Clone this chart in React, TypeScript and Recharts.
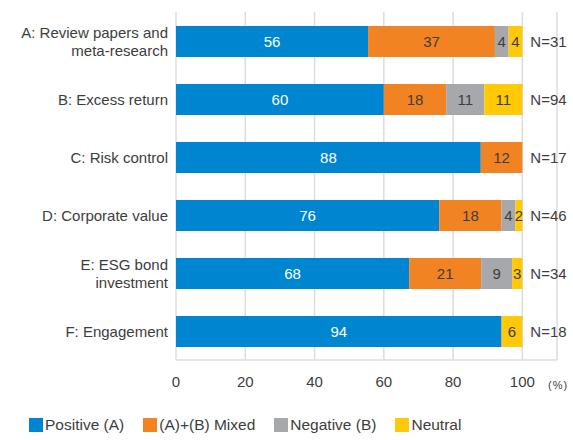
import React from "react";
import {
  BarChart,
  Bar,
  XAxis,
  YAxis,
  CartesianGrid,
  Legend,
  LabelList,
} from "recharts";

const categories = [
  "A: Review papers and\nmeta-research",
  "B: Excess return",
  "C: Risk control",
  "D: Corporate value",
  "E: ESG bond\ninvestment",
  "F: Engagement",
];
const positive = [56, 60, 88, 76, 68, 94];
const mixed = [37, 18, 12, 18, 21, 0];
const negative = [4, 11, 0, 4, 9, 0];
const neutral = [4, 11, 0, 2, 3, 6];
const counts = [31, 94, 17, 46, 34, 18];
const xTicks = [0, 20, 40, 60, 80, 100];
const xMax = 110;

const FONT = "'Liberation Sans', Arial, sans-serif";
const TEXT = "#3d3d3d";

const series = [
  { key: "positive", name: "Positive (A)", color: "#0086d1", label: "#ffffff" },
  { key: "mixed", name: "(A)+(B) Mixed", color: "#f28322", label: TEXT },
  { key: "negative", name: "Negative (B)", color: "#a7a8ab", label: TEXT },
  { key: "neutral", name: "Neutral", color: "#ffc907", label: TEXT },
];

// bars are scaled to 100% of each row, labels keep the raw numbers
const data = categories.map((name, i) => {
  const total = positive[i] + mixed[i] + negative[i] + neutral[i];
  return {
    name,
    n: "N=" + counts[i],
    positive: (positive[i] / total) * 100,
    mixed: (mixed[i] / total) * 100,
    negative: (negative[i] / total) * 100,
    neutral: (neutral[i] / total) * 100,
    rest: xMax - 100, // empty space right of 100% that holds the N= text
    positiveRaw: positive[i],
    mixedRaw: mixed[i],
    negativeRaw: negative[i],
    neutralRaw: neutral[i],
  };
});

const CategoryTick = (props: any) => {
  const { x, y, payload } = props;
  const lines = String(payload.value).split("\n");
  const lh = 18;
  const start = y - ((lines.length - 1) * lh) / 2;
  return (
    <text
      x={x}
      y={start}
      textAnchor="end"
      fill={TEXT}
      fontSize={15}
      fontFamily={FONT}
    >
      {lines.map((l: string, i: number) => (
        <tspan key={i} x={x} y={start + i * lh} dominantBaseline="central">
          {l}
        </tspan>
      ))}
    </text>
  );
};

const NLabel = (props: any) => {
  const { x, y, height, value } = props;
  return (
    <text
      x={Number(x) + 8}
      y={Number(y) + Number(height) / 2}
      dominantBaseline="central"
      fill={TEXT}
      fontSize={15}
      fontFamily={FONT}
    >
      {value}
    </text>
  );
};

const LegendBox = () => (
  <div
    style={{
      display: "flex",
      alignItems: "center",
      paddingLeft: 29,
      fontFamily: FONT,
      fontSize: 15.5,
      color: TEXT,
      height: 20,
    }}
  >
    {series.map((s) => (
      <div
        key={s.key}
        style={{ display: "flex", alignItems: "center", marginRight: 19 }}
      >
        <span
          style={{
            width: 14,
            height: 14,
            background: s.color,
            display: "inline-block",
            marginRight: 2,
          }}
        />
        <span>{s.name}</span>
      </div>
    ))}
  </div>
);

export default function App() {
  return (
    <div
      style={{
        position: "absolute",
        left: 0,
        top: 0,
        width: 573,
        height: 440,
        background: "#fff",
      }}
    >
      <BarChart
        width={573}
        height={440}
        data={data}
        layout="vertical"
        barSize={31}
        margin={{ top: 12, right: 16, bottom: 30, left: 0 }}
      >
        <CartesianGrid
          horizontal={false}
          vertical={true}
          stroke="#dcdcdc"
          strokeWidth={1.5}
        />
        <XAxis
          type="number"
          domain={[0, xMax]}
          ticks={xTicks}
          height={30}
          tickSize={0}
          tickMargin={16}
          axisLine={{ stroke: "#dcdcdc", strokeWidth: 1.5 }}
          tickLine={false}
          tick={{ fill: TEXT, fontSize: 15, fontFamily: FONT }}
          label={({ viewBox }: any) => (
            <text
              x={viewBox.x + viewBox.width - 9}
              y={389}
              fill={TEXT}
              fontSize={11}
              fontFamily={FONT}
              letterSpacing={1}
            >
              (%)
            </text>
          )}
        />
        <YAxis
          type="category"
          dataKey="name"
          width={176}
          tickSize={0}
          tickMargin={8}
          axisLine={false}
          tickLine={false}
          tick={<CategoryTick />}
        />
        <Legend
          verticalAlign="bottom"
          content={<LegendBox />}
          wrapperStyle={{ left: 0, top: 415, bottom: "auto", width: 573 }}
        />
        {series.map((s) => (
          <Bar
            key={s.key}
            dataKey={s.key}
            name={s.name}
            stackId="a"
            fill={s.color}
            isAnimationActive={false}
          >
            <LabelList
              dataKey={s.key + "Raw"}
              position="center"
              fill={s.label}
              fontSize={15}
              fontFamily={FONT}
              formatter={(v: any) => (v ? v : "")}
            />
          </Bar>
        ))}
        <Bar
          dataKey="rest"
          stackId="a"
          fill="none"
          isAnimationActive={false}
        >
          <LabelList dataKey="n" content={<NLabel />} />
        </Bar>
      </BarChart>
    </div>
  );
}
